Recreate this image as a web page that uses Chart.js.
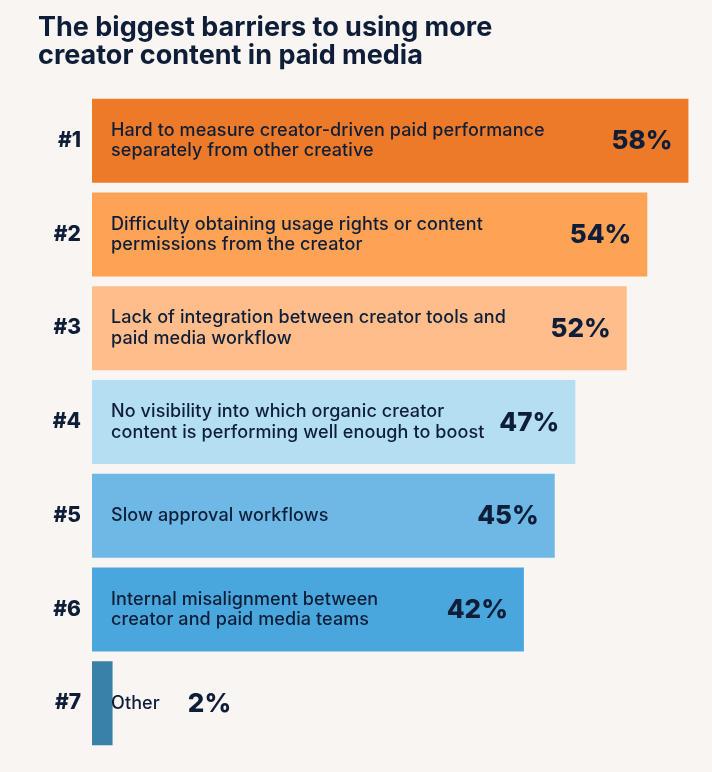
<!DOCTYPE html>
<html>
<head>
<meta charset="utf-8">
<script src="https://cdn.jsdelivr.net/npm/chart.js@4.4.1/dist/chart.umd.min.js"></script>
<style>
  html, body { margin: 0; padding: 0; background: #f9f5f2; }
  #wrap { width: 712px; height: 772px; }
</style>
</head>
<body>
<div id="wrap"><canvas id="chart"></canvas></div>
<script>
// Barriers to using more creator content in paid media

const ranks = ['#1', '#2', '#3', '#4', '#5', '#6', '#7'];
const barriers = [
    ['Hard to measure creator-driven paid performance', 'separately from other creative'],
    ['Difficulty obtaining usage rights or content', 'permissions from the creator'],
    ['Lack of integration between creator tools and', 'paid media workflow'],
    ['No visibility into which organic creator', 'content is performing well enough to boost'],
    ['Slow approval workflows'],
    ['Internal misalignment between', 'creator and paid media teams'],
    ['Other']
];
const shares = [58, 54, 52, 47, 45, 42, 2];
const barColors = ['#ec7a28', '#fea256', '#ffbd8b', '#b4def2', '#6db8e4', '#4aa7dd', '#3a81a8'];

const navy = '#0f1e38';
const fontFamily = 'Inter, "Noto Sans", sans-serif';

// Draws the barrier text and percentage inside each bar
const barText = {
    id: 'barText',
    afterDatasetsDraw(chart) {
        const ctx = chart.ctx;
        const meta = chart.getDatasetMeta(0);
        const left = chart.chartArea.left;
        ctx.save();
        ctx.fillStyle = navy;
        ctx.textBaseline = 'middle';
        meta.data.forEach((bar, i) => {
            const lines = barriers[i];
            ctx.font = '500 18px ' + fontFamily;
            ctx.letterSpacing = '0.1px';
            ctx.textAlign = 'left';
            const lh = 20.5;
            const y0 = bar.y - (lines.length - 1) * lh / 2;
            let textEnd = 0;
            lines.forEach((t, j) => {
                ctx.fillText(t, left + 19, y0 + j * lh);
                textEnd = Math.max(textEnd, left + 19 + ctx.measureText(t).width);
            });

            ctx.font = '800 26px ' + fontFamily;
            ctx.letterSpacing = '0px';
            const pct = shares[i] + '%';
            const w = ctx.measureText(pct).width;
            let x = bar.x - 16 - w;
            // bar too short for the number: put it after the text
            if (bar.x < textEnd) x = textEnd + 28;
            ctx.fillText(pct, x, bar.y + 1);
        });
        ctx.restore();
    }
};

new Chart(document.getElementById('chart'), {
    type: 'bar',
    data: {
        labels: ranks,
        datasets: [{
            data: shares,
            backgroundColor: barColors,
            borderWidth: 0,
            categoryPercentage: 1,
            barPercentage: 0.896
        }]
    },
    options: {
        indexAxis: 'y',
        responsive: true,
        maintainAspectRatio: false,
        animation: false,
        layout: { padding: { left: 38, right: 3, top: 0, bottom: 22 } },
        scales: {
            x: { display: false, min: 0, max: 60 },
            y: {
                grid: { display: false },
                border: { display: false },
                ticks: {
                    color: navy,
                    padding: 3,
                    font: { family: fontFamily, size: 21, weight: '800' }
                },
                afterFit(scale) { scale.width = 54; }
            }
        },
        plugins: {
            legend: { display: false },
            tooltip: { enabled: false },
            title: {
                display: true,
                align: 'start',
                text: ['The biggest barriers to using more', 'creator content in paid media'],
                color: navy,
                font: { family: fontFamily, size: 27, weight: '700', lineHeight: 1.07 },
                padding: { top: 13, bottom: 23 }
            }
        }
    },
    plugins: [barText]
});
</script>
</body>
</html>
